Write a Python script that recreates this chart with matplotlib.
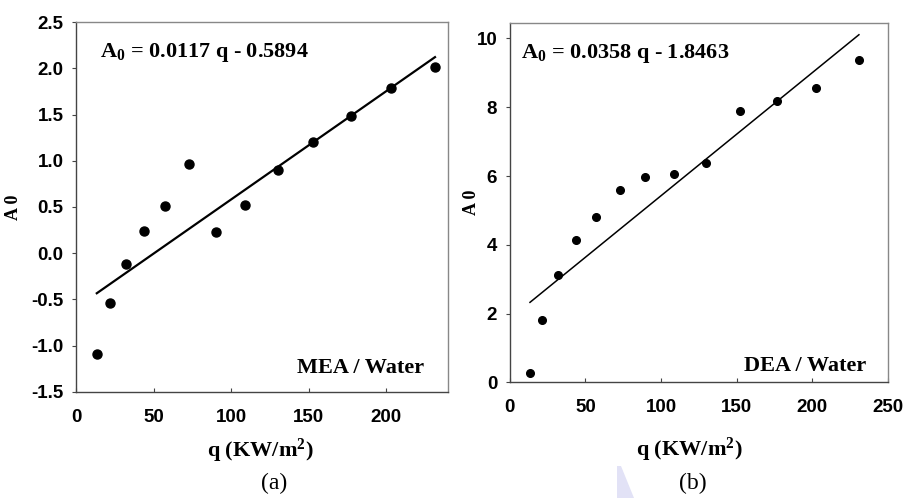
import matplotlib
matplotlib.use('Agg')
import matplotlib.pyplot as plt
from matplotlib.patches import Polygon
import numpy as np

# heat flux q (KW/m2) and A0 values
q_mea = [13.4, 22.0, 32.1, 44.0, 57.4, 72.9, 90.4, 109.3, 130.2, 152.9, 177.2, 203.1, 231.6]
a0_mea = [-1.09, -0.54, -0.12, 0.24, 0.51, 0.97, 0.23, 0.52, 0.90, 1.20, 1.48, 1.79, 2.01]

q_dea = [13.4, 21.6, 32.0, 43.6, 57.3, 72.8, 89.7, 108.7, 129.6, 151.9, 176.6, 202.6, 230.8]
a0_dea = [0.26, 1.80, 3.12, 4.15, 4.80, 5.59, 5.98, 6.06, 6.37, 7.88, 8.19, 8.55, 9.36]

# fitted lines as drawn in the figure
fit_mea = (0.0117, -0.5894)
fit_dea = (0.0358, 1.8463)

eq_mea = r'A$_0$ = 0.0117 q - 0.5894'
eq_dea = r'A$_0$ = 0.0358 q - 1.8463'

yticks_mea = [-1.5, -1.0, -0.5, 0.0, 0.5, 1.0, 1.5, 2.0, 2.5]
yticks_dea = [0, 2, 4, 6, 8, 10]
xticks_mea = [0, 50, 100, 150, 200]
xticks_dea = [0, 50, 100, 150, 200, 250]

plt.rcParams['mathtext.fontset'] = 'custom'
plt.rcParams['mathtext.rm'] = 'Liberation Serif:bold'
plt.rcParams['mathtext.it'] = 'Liberation Serif:bold'
plt.rcParams['mathtext.bf'] = 'Liberation Serif:bold'

serif = 'Liberation Serif'
tick_font = ['Liberation Sans Narrow', 'Liberation Sans']
tick_size = 13.5

fig = plt.figure(figsize=(9.06, 4.98), dpi=100)
ax1 = fig.add_axes([0.0839, 0.2129, 0.4106, 0.7429])
ax2 = fig.add_axes([0.5626, 0.2323, 0.4175, 0.7215])


def style_axes(ax, xticks, yticks, xlim, ylim, ylabels):
    ax.set_xlim(xlim)
    ax.set_ylim(ylim)
    ax.set_xticks(xticks)
    ax.set_yticks(yticks)
    ax.set_yticklabels(ylabels)
    for side in ['left', 'bottom']:
        ax.spines[side].set_color('#444444')
        ax.spines[side].set_linewidth(1.0)
    for side in ['top', 'right']:
        ax.spines[side].set_color('#888888')
        ax.spines[side].set_linewidth(1.0)
    ax.tick_params(axis='x', direction='in', length=3, width=0.8, pad=12, color='#444444')
    ax.tick_params(axis='y', direction='out', length=3, width=0.8, pad=6, color='#444444')
    for lab in ax.get_xticklabels() + ax.get_yticklabels():
        lab.set_fontfamily(tick_font)
        lab.set_fontweight('bold')
        lab.set_fontsize(tick_size)


# panel (a) MEA / Water
style_axes(ax1, xticks_mea, yticks_mea, (0, 240), (-1.5, 2.5),
           [f'{v:.1f}' for v in yticks_mea])
ax1.plot(q_mea, a0_mea, 'o', color='black', markersize=6.5)
xx = np.array([min(q_mea), max(q_mea)])
ax1.plot(xx, fit_mea[0] * xx + fit_mea[1], color='black', linewidth=1.6)
ax1.text(0.064, 0.905, eq_mea, transform=ax1.transAxes, fontfamily=serif,
         fontweight='bold', fontsize=16)
ax1.text(0.935, 0.051, 'MEA / Water', transform=ax1.transAxes, ha='right',
         fontfamily=serif, fontweight='bold', fontsize=16)
ax1.set_ylabel('A 0', fontfamily=serif, fontweight='bold', fontsize=13)
ax1.yaxis.set_label_coords(-0.146, 0.5)
ax1.set_xlabel(r'q (KW/m$^2$)', fontfamily=serif, fontweight='bold', fontsize=16)
ax1.xaxis.set_label_coords(0.495, -0.122)

# panel (b) DEA / Water
style_axes(ax2, xticks_dea, yticks_dea, (0, 250), (0, 10.45),
           [str(v) for v in yticks_dea])
ax2.plot(q_dea, a0_dea, 'o', color='black', markersize=5.5)
xx = np.array([min(q_dea), max(q_dea)])
ax2.plot(xx, fit_dea[0] * xx + fit_dea[1], color='black', linewidth=1.1)
ax2.text(0.030, 0.903, eq_dea, transform=ax2.transAxes, fontfamily=serif,
         fontweight='bold', fontsize=16)
ax2.text(0.942, 0.032, 'DEA / Water', transform=ax2.transAxes, ha='right',
         fontfamily=serif, fontweight='bold', fontsize=16)
ax2.set_ylabel('A 0', fontfamily=serif, fontweight='bold', fontsize=13)
ax2.yaxis.set_label_coords(-0.079, 0.5)
ax2.set_xlabel(r'q (KW/m$^2$)', fontfamily=serif, fontweight='bold', fontsize=16)
ax2.xaxis.set_label_coords(0.474, -0.15)

# panel captions
fig.text(274 / 906, 1 - 483 / 498, '(a)', ha='center', va='center',
         fontfamily=serif, fontsize=17)
fig.text(693 / 906, 1 - 483 / 498, '(b)', ha='center', va='center',
         fontfamily=serif, fontsize=17)

# faint scanning artefact under panel (b)
fig.patches.append(Polygon([[617 / 906, 1 - 466 / 498], [621 / 906, 1 - 466 / 498],
                            [634 / 906, 0.0], [617 / 906, 0.0]],
                           closed=True, transform=fig.transFigure,
                           facecolor='#e2e2f6', edgecolor='none'))

fig.savefig('out.png', dpi=100)
